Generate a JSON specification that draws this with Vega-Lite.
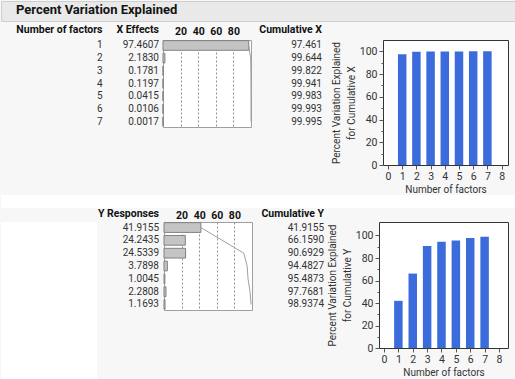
{
  "$schema": "https://vega.github.io/schema/vega-lite/v6.json",
  "background": "#f7f7f7",
  "padding": 0,
  "spacing": 0,
  "datasets": {
    "xdata": [
      {"factor": 1, "xeff": 97.4607, "cumx": 97.461},
      {"factor": 2, "xeff": 2.1830, "cumx": 99.644},
      {"factor": 3, "xeff": 0.1781, "cumx": 99.822},
      {"factor": 4, "xeff": 0.1197, "cumx": 99.941},
      {"factor": 5, "xeff": 0.0415, "cumx": 99.983},
      {"factor": 6, "xeff": 0.0106, "cumx": 99.993},
      {"factor": 7, "xeff": 0.0017, "cumx": 99.995}
    ],
    "ydata": [
      {"factor": 1, "yresp": 41.9155, "cumy": 41.9155},
      {"factor": 2, "yresp": 24.2435, "cumy": 66.1590},
      {"factor": 3, "yresp": 24.5339, "cumy": 90.6929},
      {"factor": 4, "yresp": 3.7898, "cumy": 94.4827},
      {"factor": 5, "yresp": 1.0045, "cumy": 95.4873},
      {"factor": 6, "yresp": 2.2808, "cumy": 97.7681},
      {"factor": 7, "yresp": 1.1693, "cumy": 98.9374}
    ],
    "blank": [{"k": 1}]
  },
  "config": {
    "font": "Roboto",
    "view": {"stroke": null},
    "title": {"fontSize": 10.5, "fontWeight": "bold", "color": "#111111", "anchor": "end", "offset": 5},
    "axis": {"labelFont": "Roboto", "titleFont": "Roboto", "labelColor": "#333333", "titleColor": "#333333", "tickColor": "#555555"}
  },
  "vconcat": [
    {
      "spacing": 2,
      "vconcat": [
        {
          "width": 515,
          "height": 20,
          "view": {"fill": "#e9e9e9", "stroke": "#cfcfcf"},
          "title": {"text": "Percent Variation Explained", "anchor": "start", "fontSize": 13, "offset": -16, "dx": 15, "color": "#141414"},
          "data": {"name": "blank"},
          "mark": {"type": "text"},
          "encoding": {"text": {"value": ""}}
        },
        {
          "spacing": 0,
          "hconcat": [
            {
              "data": {"name": "xdata"},
              "width": 102,
              "height": 87,
              "title": {"text": "Number of factors", "dx": -0.5},
              "mark": {"type": "text", "align": "right", "baseline": "middle", "fontSize": 10, "color": "#333333", "dx": -0.5},
              "encoding": {
                "y": {"field": "factor", "type": "ordinal", "axis": null, "scale": {"type": "band", "paddingInner": 0.24, "paddingOuter": 0.05}},
                "x": {"value": "width"},
                "text": {"field": "factor", "type": "quantitative"}
              }
            },
            {
              "data": {"name": "xdata"},
              "width": 59,
              "height": 87,
              "title": {"text": "X Effects", "dx": -3},
              "mark": {"type": "text", "align": "right", "baseline": "middle", "fontSize": 10, "color": "#333333", "dx": -3},
              "encoding": {
                "y": {"field": "factor", "type": "ordinal", "axis": null, "scale": {"type": "band", "paddingInner": 0.24, "paddingOuter": 0.05}},
                "x": {"value": "width"},
                "text": {"field": "xeff", "type": "quantitative", "format": ".4f"}
              }
            },
            {
              "data": {"name": "xdata"},
              "width": 88,
              "height": 87,
              "view": {"fill": "white", "stroke": "#a0a0a0"},
              "encoding": {
                "y": {"field": "factor", "type": "ordinal", "axis": null, "scale": {"type": "band", "paddingInner": 0.24, "paddingOuter": 0.05}}
              },
              "layer": [
                {
                  "mark": {"type": "bar", "fill": "#c4c4c4", "stroke": "#808080", "strokeWidth": 1},
                  "encoding": {
                    "x": {"field": "xeff", "type": "quantitative", "scale": {"domain": [0, 100], "nice": false},
                      "axis": {"orient": "top", "values": [20, 40, 60, 80], "tickCount": 10, "format": "d", "labelOverlap": false, "grid": true, "gridDash": [2, 2], "gridColor": "#909090", "ticks": false, "domain": false, "labelFontWeight": "bold", "labelFontSize": 10.5, "labelPadding": 4, "title": null, "labelColor": "#111111"}}
                  }
                },
                {
                  "mark": {"type": "line", "color": "#a0a0a0", "strokeWidth": 1},
                  "encoding": {"x": {"field": "cumx", "type": "quantitative",
                      "axis": {"orient": "top", "values": [20, 40, 60, 80], "tickCount": 10, "format": "d", "labelOverlap": false, "grid": true, "gridDash": [2, 2], "gridColor": "#909090", "ticks": false, "domain": false, "labelFontWeight": "bold", "labelFontSize": 10.5, "labelPadding": 4, "title": null, "labelColor": "#111111"}}}
                }
              ]
            },
            {
              "data": {"name": "xdata"},
              "width": 76,
              "height": 87,
              "title": {"text": "Cumulative X", "dx": -8},
              "mark": {"type": "text", "align": "right", "baseline": "middle", "fontSize": 10, "color": "#333333", "dx": -8},
              "encoding": {
                "y": {"field": "factor", "type": "ordinal", "axis": null, "scale": {"type": "band", "paddingInner": 0.24, "paddingOuter": 0.05}},
                "x": {"value": "width"},
                "text": {"field": "cumx", "type": "quantitative", "format": ".3f"}
              }
            },
            {
              "data": {"name": "xdata"},
              "width": 125,
              "height": 125,
              "view": {"fill": "white", "stroke": "#333333"},
              "mark": {"type": "bar", "size": 8.5, "color": "#3c6cdc"},
              "encoding": {
                "x": {"field": "factor", "type": "quantitative", "scale": {"domain": [0, 8.1], "nice": false},
                  "axis": {"values": [0, 1, 2, 3, 4, 5, 6, 7, 8], "format": "d", "labelOverlap": false, "title": "Number of factors", "labelFontSize": 10.5, "titleFontSize": 10, "titleFontWeight": "normal", "tickSize": 4, "domain": false, "grid": false, "labelPadding": 2, "titlePadding": 3}},
                "y": {"field": "cumx", "type": "quantitative", "scale": {"domain": [0, 110], "nice": false},
                  "axis": {"values": [0, 10, 20, 30, 40, 50, 60, 70, 80, 90, 100], "tickCount": 20, "format": "d", "labelExpr": "datum.value % 20 === 0 ? datum.label : ''", "tickSize": {"condition": {"test": "datum.value % 20 === 0", "value": 4}, "value": 2}, "labelOverlap": false, "title": ["Percent Variation Explained", "for Cumulative X"], "titleLineHeight": 15, "labelFontSize": 10.5, "titleFontSize": 10, "titleFontWeight": "normal", "domain": false, "grid": false, "labelPadding": 2, "titlePadding": 3}}
              }
            }
          ]
        }
      ]
    },
    {
      "width": 515,
      "height": 13,
      "view": {"fill": "white"},
      "data": {"name": "blank"},
      "mark": {"type": "text"},
      "encoding": {"text": {"value": ""}}
    },
    {
      "spacing": 0,
      "hconcat": [
        {
          "width": 96,
          "height": 172,
          "view": {"fill": "white"},
          "data": {"name": "blank"},
          "mark": {"type": "text"},
          "encoding": {"text": {"value": ""}}
        },
        {
          "data": {"name": "ydata"},
          "width": 63,
          "height": 88,
          "title": {"text": "Y Responses", "dx": -4, "offset": 3},
          "mark": {"type": "text", "align": "right", "baseline": "middle", "fontSize": 10, "color": "#333333", "dx": -4},
          "encoding": {
            "y": {"field": "factor", "type": "ordinal", "axis": null, "scale": {"type": "band", "paddingInner": 0.24, "paddingOuter": 0.05}},
            "x": {"value": "width"},
            "text": {"field": "yresp", "type": "quantitative", "format": ".4f"}
          }
        },
        {
          "data": {"name": "ydata"},
          "width": 88,
          "height": 88,
          "view": {"fill": "white", "stroke": "#a0a0a0"},
          "encoding": {
            "y": {"field": "factor", "type": "ordinal", "axis": null, "scale": {"type": "band", "paddingInner": 0.24, "paddingOuter": 0.05}}
          },
          "layer": [
            {
              "mark": {"type": "bar", "fill": "#c4c4c4", "stroke": "#808080", "strokeWidth": 1},
              "encoding": {
                "x": {"field": "yresp", "type": "quantitative", "scale": {"domain": [0, 100], "nice": false},
                  "axis": {"orient": "top", "values": [20, 40, 60, 80], "tickCount": 10, "format": "d", "labelOverlap": false, "grid": true, "gridDash": [2, 2], "gridColor": "#909090", "ticks": false, "domain": false, "labelFontWeight": "bold", "labelFontSize": 10.5, "labelPadding": 2, "title": null, "labelColor": "#111111"}}
              }
            },
            {
              "mark": {"type": "line", "color": "#a0a0a0", "strokeWidth": 1},
              "encoding": {"x": {"field": "cumy", "type": "quantitative",
                  "axis": {"orient": "top", "values": [20, 40, 60, 80], "tickCount": 10, "format": "d", "labelOverlap": false, "grid": true, "gridDash": [2, 2], "gridColor": "#909090", "ticks": false, "domain": false, "labelFontWeight": "bold", "labelFontSize": 10.5, "labelPadding": 2, "title": null, "labelColor": "#111111"}}}
            }
          ]
        },
        {
          "data": {"name": "ydata"},
          "width": 72,
          "height": 88,
          "title": {"text": "Cumulative Y", "dx": -2, "offset": 3},
          "mark": {"type": "text", "align": "right", "baseline": "middle", "fontSize": 10, "color": "#333333", "dx": -2},
          "encoding": {
            "y": {"field": "factor", "type": "ordinal", "axis": null, "scale": {"type": "band", "paddingInner": 0.24, "paddingOuter": 0.05}},
            "x": {"value": "width"},
            "text": {"field": "cumy", "type": "quantitative", "format": ".4f"}
          }
        },
        {
          "data": {"name": "ydata"},
          "width": 129,
          "height": 126,
          "view": {"fill": "white", "stroke": "#333333"},
          "mark": {"type": "bar", "size": 8.5, "color": "#3c6cdc"},
          "encoding": {
            "x": {"field": "factor", "type": "quantitative", "scale": {"domain": [0, 8.28], "nice": false},
              "axis": {"values": [0, 1, 2, 3, 4, 5, 6, 7, 8], "format": "d", "labelOverlap": false, "title": "Number of factors", "labelFontSize": 10.5, "titleFontSize": 10, "titleFontWeight": "normal", "tickSize": 4, "domain": false, "grid": false, "labelPadding": 2, "titlePadding": 3}},
            "y": {"field": "cumy", "type": "quantitative", "scale": {"domain": [0, 112], "nice": false},
              "axis": {"values": [0, 10, 20, 30, 40, 50, 60, 70, 80, 90, 100], "tickCount": 20, "format": "d", "labelExpr": "datum.value % 20 === 0 ? datum.label : ''", "tickSize": {"condition": {"test": "datum.value % 20 === 0", "value": 4}, "value": 2}, "labelOverlap": false, "title": ["Percent Variation Explained", "for Cumulative Y"], "titleLineHeight": 15, "labelFontSize": 10.5, "titleFontSize": 10, "titleFontWeight": "normal", "domain": false, "grid": false, "labelPadding": 2, "titlePadding": 3}}
          }
        }
      ]
    }
  ]
}
